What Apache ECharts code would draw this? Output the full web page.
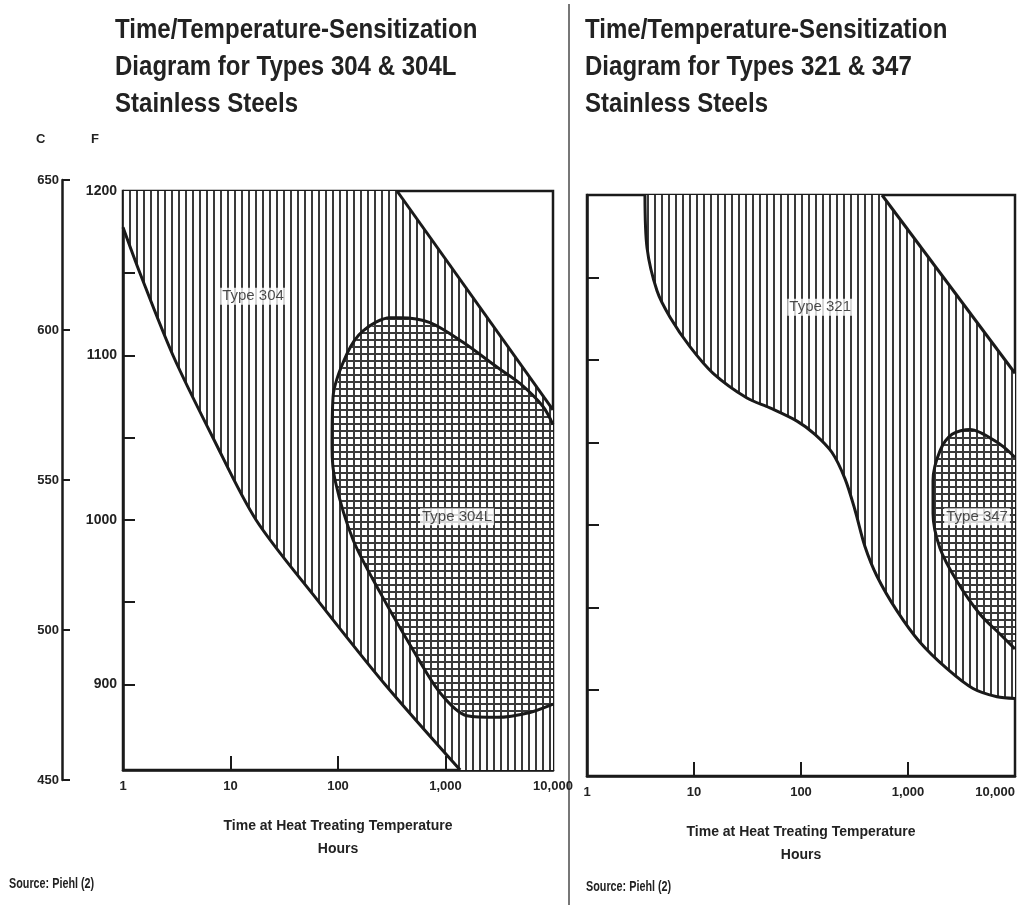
<!DOCTYPE html>
<html><head><meta charset="utf-8">
<script src="https://cdn.jsdelivr.net/npm/echarts@6/dist/echarts.min.js"></script>
<style>html,body{margin:0;padding:0;background:#fff}#c{width:1021px;height:905px}</style>
</head><body><div id="c"></div>
<script>
// ---- data (hours, deg F) ----
const hourTicks = [1, 10, 100, 1000, 10000];
const fTicks = [900, 950, 1000, 1050, 1100, 1150];
const fLabels = [900, 1000, 1100, 1200];
const cLabels = [450, 500, 550, 600, 650];

const t304Lower = [[1,1178],[1.44,1150],[2.92,1100],[6.87,1050],[17.3,1000],[65,951],[274,900],[1370,848]];
const t304Upper = [[354,1200],[10000,1067]];
const t304L = [[10000,1058],[8070,1069],[4930,1083],[3010,1093],[1455,1108],[718,1120],[377,1123],[305,1123],[171,1115],[121,1101],[90,1075],[88,1044],[94,1024],[138,988],[246,956],[499,921],[889,895],[1585,881],[3010,880],[6110,883],[10000,888]];

const t321Lower = [[3.48,1200],[3.64,1168],[4.51,1142],[5.97,1126],[9.2,1108],[15.1,1092],[31.3,1077],[51.3,1071],[91.8,1063],[135,1055],[195,1044],[258,1028],[320,1009],[396,987],[513,969],[789,948],[1294,929],[2314,913],[4050,901],[6790,896],[10000,895]];
const t321Upper = [[571,1200],[10000,1092]];
const t347 = [[10000,1041],[7240,1049],[3800,1058],[2580,1055],[1990,1045],[1713,1027],[1713,1007],[1990,986],[2870,966],[4710,946],[7240,934],[10000,925]];

const labelsLeft = [['Type 304', 16.2, 1136], ['Type 304L', 1280, 1002]];
const labelsRight = [['Type 321', 151, 1132], ['Type 347', 4420, 1005]];

const fMin = 848, fMax = 1200;
// ---------------------------------

const FONT = "'Liberation Sans',Arial,Helvetica,sans-serif";
const INK = '#1a1a1a';
const TXT = '#222';

function hatch(cross) {
  const c = document.createElement('canvas');
  c.width = 7; c.height = 7;
  const g = c.getContext('2d');
  g.fillStyle = '#fff'; g.fillRect(0, 0, 7, 7);
  g.fillStyle = '#3a3a3a';
  g.fillRect(3, 0, 2, 7);
  if (cross) g.fillRect(0, 3, 7, 2);
  return { image: c, repeat: 'repeat' };
}
const vFill = hatch(false), xFill = hatch(true);

function polySeries(idx, pts, fill, z) {
  return {
    type: 'custom', coordinateSystem: 'cartesian2d', xAxisIndex: idx, yAxisIndex: idx,
    z: z, silent: true, clip: true, data: [pts[0]],
    renderItem: function (params, api) {
      return { type: 'polygon', shape: { points: pts.map(p => api.coord(p)) }, style: { fill: fill, stroke: null } };
    }
  };
}
function lineSeries(idx, pts, z) {
  return {
    type: 'line', xAxisIndex: idx, yAxisIndex: idx, data: pts, showSymbol: false, symbol: 'none',
    smooth: 0.3, silent: true, z: z, clip: true,
    lineStyle: { color: INK, width: 3 }
  };
}
function labelSeries(idx, labs) {
  return {
    type: 'scatter', xAxisIndex: idx, yAxisIndex: idx, z: 20, silent: true, symbolSize: 2,
    itemStyle: { color: 'rgba(0,0,0,0)' },
    data: labs.map(l => ({ name: l[0], value: [l[1], l[2]] })),
    label: { show: true, position: 'inside', formatter: '{b}', fontFamily: FONT, fontSize: 15,
      color: '#1e1e1e', backgroundColor: '#fff', padding: [1, 2] }
  };
}

function xAxisCfg(gi, alignMax) {
  const lab = { formatter: v => Number(v).toLocaleString('en-US'), fontFamily: FONT, fontSize: 13,
      fontWeight: 'bold', color: TXT, margin: 10 };
  if (alignMax) lab.alignMaxLabel = 'right';
  return {
    gridIndex: gi, type: 'log', logBase: 10, min: 1, max: 10000,
    axisLine: { lineStyle: { color: INK, width: 2.5 } },
    axisTick: { inside: true, length: 14, lineStyle: { color: INK, width: 2 } },
    axisLabel: lab,
    minorTick: { show: false }, splitLine: { show: false },
    name: 'Time at Heat Treating Temperature\nHours', nameLocation: 'middle', nameGap: 45,
    nameTextStyle: { fontFamily: FONT, fontSize: 14, fontWeight: 'bold', color: TXT, lineHeight: 23 }
  };
}
function yAxisCfg(gi, showLabels) {
  return {
    gridIndex: gi, type: 'value', min: fMin, max: fMax,
    axisLine: { show: true, lineStyle: { color: INK, width: 2.5 } },
    axisTick: { show: true, inside: true, length: 12, customValues: fTicks, lineStyle: { color: INK, width: 2 } },
    axisLabel: { show: showLabels, customValues: fLabels, formatter: v => String(v), fontFamily: FONT, fontSize: 14,
      fontWeight: 'bold', color: TXT, margin: 6 },
    splitLine: { show: false }
  };
}

function titleText(x, text) {
  return { type: 'text', x: x, y: 12, scaleX: 0.89, z: 10,
    style: { text: text, fontFamily: FONT, fontSize: 27, fontWeight: 'bold', fill: TXT, lineHeight: 37 } };
}
function smallText(x, y, text, sx, fs) {
  return { type: 'text', x: x, y: y, scaleX: sx, z: 10,
    style: { text: text, fontFamily: FONT, fontSize: fs, fontWeight: 'bold', fill: TXT } };
}

const chart = echarts.init(document.getElementById('c'));
chart.setOption({
  backgroundColor: '#fff',
  animation: false,
  grid: [
    { left: 123, top: 191, width: 430, height: 579, show: true, borderColor: INK, borderWidth: 2.5, backgroundColor: 'transparent', outerBoundsMode: 'none', containLabel: false },
    { left: 587, top: 195, width: 428, height: 581, show: true, borderColor: INK, borderWidth: 2.5, backgroundColor: 'transparent', outerBoundsMode: 'none', containLabel: false },
    { left: 62, top: 180, width: 1, height: 600, show: false, outerBoundsMode: 'none', containLabel: false }
  ],
  xAxis: [xAxisCfg(0, false), xAxisCfg(1, true), { gridIndex: 2, type: 'value', show: false, min: 0, max: 1 }],
  yAxis: [
    yAxisCfg(0, true), yAxisCfg(1, false),
    { gridIndex: 2, type: 'value', min: 450, max: 650, interval: 50,
      axisLine: { show: true, lineStyle: { color: INK, width: 2.5 } },
      axisTick: { show: true, inside: true, length: 8, lineStyle: { color: INK, width: 2 } },
      axisLabel: { customValues: cLabels, formatter: v => String(v), fontFamily: FONT, fontSize: 13, fontWeight: 'bold', color: TXT, margin: 3 },
      splitLine: { show: false } }
  ],
  series: [
    polySeries(0, [[1, 1200]].concat(t304Lower, [[10000, fMin]], t304Upper.slice().reverse()), vFill, 1),
    polySeries(0, t304L, xFill, 2),
    lineSeries(0, t304Lower, 5), lineSeries(0, t304Upper, 5), lineSeries(0, t304L, 5),
    labelSeries(0, labelsLeft),
    polySeries(1, t321Lower.concat(t321Upper.slice().reverse()), vFill, 1),
    polySeries(1, t347, xFill, 2),
    lineSeries(1, t321Lower, 5), lineSeries(1, t321Upper, 5), lineSeries(1, t347, 5),
    labelSeries(1, labelsRight)
  ],
  graphic: [
    { type: 'line', shape: { x1: 569, y1: 4, x2: 569, y2: 905 }, style: { stroke: '#777', lineWidth: 2 } },
    titleText(115, 'Time/Temperature-Sensitization\nDiagram for Types 304 & 304L\nStainless Steels'),
    titleText(585, 'Time/Temperature-Sensitization\nDiagram for Types 321 & 347\nStainless Steels'),
    smallText(36, 133, 'C', 1, 13),
    smallText(91, 133, 'F', 1, 13),
    smallText(9, 876, 'Source: Piehl (2)', 0.72, 15),
    smallText(586, 879, 'Source: Piehl (2)', 0.72, 15)
  ]
});
</script></body></html>
